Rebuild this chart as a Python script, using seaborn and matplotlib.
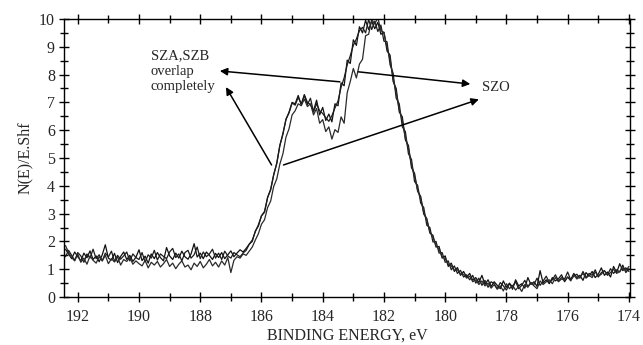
import numpy as np
import pandas as pd
import matplotlib
matplotlib.use("Agg")
import matplotlib.pyplot as plt
import seaborn as sns
from matplotlib.ticker import MultipleLocator

# Energy sampling grid (eV), 0.1 eV steps from 192.4 down to 174.0
E_START, E_STOP, E_STEP = 192.4, 174.0, 0.1

sza = [
    # baseline 192.4 -> 186.6
    1.72,1.55,1.38,1.62,1.45,1.30,1.58,1.41,1.66,1.35,
    1.48,1.27,1.52,1.88,1.40,1.33,1.57,1.24,1.46,1.62,
    1.35,1.50,1.28,1.43,1.70,1.31,1.47,1.22,1.55,1.38,
    1.60,1.42,1.30,1.78,1.48,1.35,1.58,1.40,1.65,1.45,
    1.36,1.55,1.92,1.44,1.58,1.38,1.62,1.50,1.35,1.57,
    1.42,1.60,1.38,1.52,1.66,1.45,1.58,1.70,1.62,
    # rise 186.5 -> 184.5
    1.75,1.90,2.05,2.35,2.60,2.92,3.08,3.58,3.88,4.40,4.82,5.45,5.88,6.38,6.65,7.00,6.95,7.25,6.90,7.28,7.00,
    # dip and rise 184.4 -> 182.4
    6.92,6.70,7.08,6.55,6.82,6.35,6.58,6.30,6.95,6.88,7.70,7.60,8.52,8.40,9.25,9.05,9.72,9.50,9.95,9.62,9.92,
    # descent 182.3 -> 179.4
    9.65,9.88,9.45,9.52,8.85,8.70,7.75,7.50,6.65,6.48,5.65,5.45,4.65,4.45,3.80,3.62,2.98,2.82,2.30,2.22,
    1.80,1.82,1.40,1.48,1.10,1.22,0.92,1.06,0.78,0.92,
    # tail 179.3 -> 174.0
    0.72,0.85,0.60,0.70,0.52,0.78,0.45,0.62,0.38,0.55,
    0.42,0.30,0.58,0.35,0.50,0.28,0.62,0.40,0.48,0.32,
    0.70,0.45,0.55,0.38,0.95,0.50,0.62,0.48,0.70,0.58,
    0.66,0.80,0.55,0.72,0.62,0.85,0.70,0.78,0.60,0.88,
    0.75,0.92,0.70,0.82,1.05,0.78,0.90,0.72,1.10,0.88,
    1.20,0.95,1.05,0.92,
]

szb = [
    1.45,1.68,1.50,1.32,1.60,1.48,1.25,1.55,1.40,1.72,
    1.38,1.52,1.30,1.58,1.44,1.65,1.28,1.50,1.36,1.48,
    1.62,1.30,1.55,1.42,1.35,1.60,1.26,1.52,1.40,1.68,
    1.33,1.55,1.46,1.38,1.62,1.75,1.42,1.55,1.30,1.60,
    1.68,1.40,1.52,1.80,1.38,1.62,1.45,1.55,1.72,1.40,
    1.58,1.35,1.65,1.48,1.40,1.60,1.52,1.45,1.58,
    1.68,1.90,2.00,2.38,2.55,2.92,3.05,3.58,3.85,4.40,4.80,5.45,5.85,6.40,6.62,6.98,6.90,7.18,6.95,7.25,6.92,
    7.15,6.65,6.95,6.70,6.60,6.45,6.32,6.52,6.80,7.05,7.55,7.88,8.35,8.68,9.05,9.28,9.58,9.70,9.50,9.98,9.62,
    9.92,9.55,9.78,9.20,9.18,8.35,8.05,7.15,6.95,6.12,5.95,5.15,4.95,4.15,4.02,3.38,3.22,2.58,2.50,1.98,
    2.00,1.58,1.60,1.25,1.30,0.98,1.12,0.85,0.96,0.72,
    0.80,0.62,0.78,0.50,0.68,0.42,0.60,0.35,0.55,0.48,
    0.30,0.52,0.40,0.25,0.48,0.38,0.55,0.30,0.42,0.60,
    0.38,0.52,0.45,0.68,0.42,0.58,0.75,0.52,0.62,0.80,
    0.58,0.70,0.65,0.90,0.62,0.75,0.82,0.68,0.92,0.70,
    0.85,0.78,0.98,0.72,0.88,0.95,0.80,1.02,0.85,0.98,
    0.90,1.15,0.88,1.02,
]

szo = [
    1.85,1.60,1.42,1.30,1.55,1.25,1.40,1.18,1.48,1.32,
    1.22,1.45,1.30,1.50,1.20,1.38,1.26,1.45,1.15,1.35,
    1.28,1.42,1.18,1.30,1.20,1.12,1.32,1.05,1.25,1.15,
    1.28,1.08,1.20,1.35,1.10,1.22,1.02,1.18,1.30,1.08,
    1.15,0.98,1.22,1.10,1.28,1.05,1.18,1.35,1.12,1.25,
    1.08,1.30,1.15,1.42,0.88,1.32,1.45,1.40,1.55,
    1.50,1.65,1.80,2.05,2.28,2.62,2.78,3.22,3.45,3.98,4.25,4.78,5.15,5.75,6.05,6.55,6.70,6.95,6.88,7.12,6.85,
    6.95,6.55,6.78,6.25,6.38,5.95,6.12,5.68,6.02,5.92,6.48,6.25,7.35,7.75,8.22,7.88,8.38,8.55,9.40,9.45,9.98,
    9.82,10.05,9.58,9.52,8.98,8.55,7.85,7.35,6.75,6.35,5.72,5.35,4.75,4.35,3.85,3.55,3.05,2.78,2.35,2.15,
    1.85,1.72,1.45,1.38,1.18,1.12,0.96,0.98,0.82,0.82,
    0.68,0.75,0.55,0.62,0.45,0.58,0.40,0.50,0.32,0.45,
    0.28,0.40,0.22,0.48,0.30,0.42,0.25,0.38,0.20,0.45,
    0.35,0.52,0.40,0.30,0.58,0.45,0.55,0.62,0.48,0.70,
    0.55,0.65,0.60,0.72,0.58,0.80,0.65,0.72,0.85,0.68,
    0.78,0.70,0.90,0.75,0.82,0.95,0.78,0.88,1.00,0.85,
    0.92,1.05,0.95,1.10,
]

samples = ["SZA", "SZB", "SZO"]
n = len(sza)
energy = np.round(E_START - E_STEP * np.arange(n), 2)

df = pd.concat([
    pd.DataFrame({"energy": energy, "intensity": vals, "sample": name})
    for name, vals in zip(samples, [sza, szb, szo])
], ignore_index=True)

sns.set_style("ticks")
plt.rcParams["font.family"] = ["Liberation Serif", "DejaVu Serif"]
plt.rcParams["axes.linewidth"] = 1.0

fig = plt.figure(figsize=(6.43, 3.45), dpi=100)
ax = fig.add_axes([0.0995, 0.139, 0.880, 0.806])

sns.lineplot(data=df, x="energy", y="intensity", hue="sample", units="sample",
             estimator=None, palette=["#111111", "#1c1c1c", "#2a2a2a"],
             linewidth=0.9, legend=False, ax=ax, sort=False)

ax.set_xlim(192.45, 173.97)
ax.set_ylim(0, 10)
ax.xaxis.set_major_locator(MultipleLocator(2))
ax.xaxis.set_minor_locator(MultipleLocator(1))
ax.yaxis.set_major_locator(MultipleLocator(1))
ax.yaxis.set_minor_locator(MultipleLocator(0.5))
ax.tick_params(which="both", direction="inout", top=True, right=True,
               color="black", width=1.0)
ax.tick_params(which="major", length=7, labelsize=11.5)
ax.tick_params(axis="x", which="major", pad=5)
ax.tick_params(axis="y", which="major", pad=3)
ax.tick_params(which="minor", length=6)
for s in ax.spines.values():
    s.set_visible(True)
    s.set_color("black")

ax.set_xlabel("BINDING ENERGY, eV", fontsize=11.5, labelpad=2)
ax.set_ylabel("N(E)/E.Shf", fontsize=11.5, labelpad=4)

ax.text(189.62, 8.9, "SZA,SZB\noverlap\ncompletely", fontsize=10.5,
        ha="left", va="top", linespacing=1.2)
ax.text(178.8, 7.55, "SZO", fontsize=10.5, ha="left", va="center")

arrow = dict(arrowstyle="-|>", color="black", lw=1.1, mutation_scale=11,
             shrinkA=0, shrinkB=0)
ax.annotate("", xy=(187.36, 8.13), xytext=(183.44, 7.74), arrowprops=arrow)
ax.annotate("", xy=(179.18, 7.66), xytext=(182.84, 8.10), arrowprops=arrow)
ax.annotate("", xy=(187.16, 7.55), xytext=(185.67, 4.75), arrowprops=arrow)
ax.annotate("", xy=(178.90, 7.11), xytext=(185.28, 4.75), arrowprops=arrow)

fig.savefig("out.png", dpi=100)
